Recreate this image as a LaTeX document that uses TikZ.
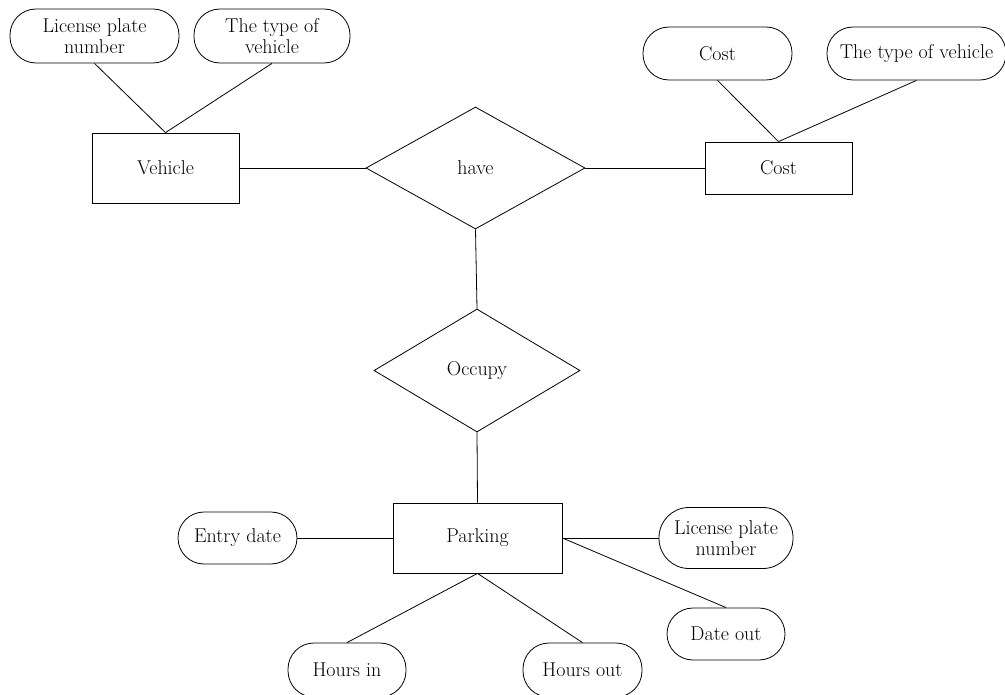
\documentclass[tikz,border=0pt]{standalone}
\usetikzlibrary{shapes.geometric}
\begin{document}
\begin{tikzpicture}[x=1pt,y=-1pt,
  every node/.style={font=\fontsize{20}{20.5}\selectfont, align=center, inner sep=0pt},
  every path/.style={line width=0.8pt},
  entity/.style={draw, rectangle, minimum width=#1},
  attr/.style={draw, rectangle, rounded corners=26pt, minimum height=53pt},
]
\useasboundingbox (0,0) rectangle (1005,695);

% entities
\node[entity=147pt, minimum height=70pt] (veh) at (165.5,168) {Vehicle};
\node[entity=147pt, minimum height=52pt] (cost) at (778.5,168) {Cost};
\node[entity=169pt, minimum height=70pt] (park) at (477.5,538) {Parking};

% relationships
\node[draw, diamond, minimum width=219pt, minimum height=122pt] (have) at (475.5,168) {have};
\node[draw, diamond, minimum width=206pt, minimum height=123pt] (occ) at (477,370.5) {Occupy};

% attributes
\node[attr, minimum width=169pt, minimum height=54pt] (lpn1) at (94.5,36) {License plate\\number};
\node[attr, minimum width=156pt, minimum height=54pt] (tov1) at (272,36) {The type of\\vehicle};
\node[attr, minimum width=149pt] (costa) at (717.5,53.5) {Cost};
\node[attr, minimum width=179pt] (tov2) at (916.5,53.5) {The type of vehicle};
\node[attr, minimum width=119pt, minimum height=52pt] (entry) at (237.5,538) {Entry date};
\node[attr, minimum width=134pt, minimum height=61pt, rounded corners=30pt] (lpn2) at (726,538) {License plate\\number};
\node[attr, minimum width=118pt, minimum height=52pt] (dout) at (726,634) {Date out};
\node[attr, minimum width=118pt, minimum height=54pt] (hin) at (347,670) {Hours in};
\node[attr, minimum width=119pt, minimum height=54pt] (hout) at (582.5,670) {Hours out};

% connectors
\draw (lpn1.south) -- (veh.north);
\draw (tov1.south) -- (veh.north);
\draw (costa.south) -- (cost.north);
\draw (tov2.south) -- (cost.north);
\draw (veh.east) -- (have.west);
\draw (have.east) -- (cost.west);
\draw (have.south) -- (occ.north);
\draw (occ.south) -- (park.north);
\draw (entry.east) -- (park.west);
\draw (park.east) -- (lpn2.west);
\draw (park.east) -- (dout.north);
\draw (park.south) -- (hin.north);
\draw (park.south) -- (hout.north);
\end{tikzpicture}
\end{document}
